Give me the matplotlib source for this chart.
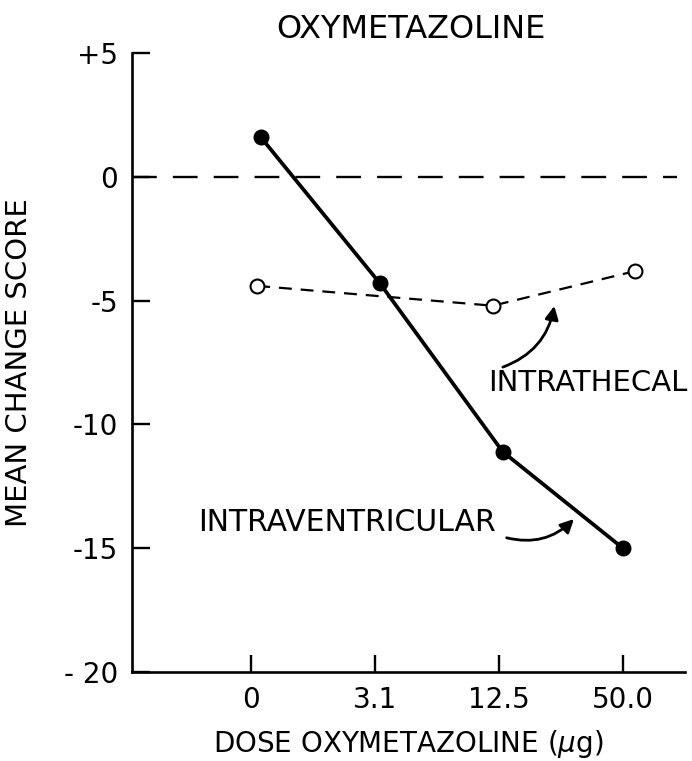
import numpy as np
import matplotlib
matplotlib.use("Agg")
import matplotlib.pyplot as plt

# Oxymetazoline: mean change score vs dose

# doses (category labels on the x axis)
doses = ["0", "3.1", "12.5", "50.0"]

# intraventricular (filled circles, solid line)
ivt_x = [0.08, 1.04, 2.03, 3.0]          # positions (dose index)
ivt_score = [1.6, -4.3, -11.1, -15.0]

# intrathecal (open circles, dashed line), no point at 3.1
ith_x = [0.05, 1.95, 3.1]
ith_score = [-4.4, -5.2, -3.8]

y_ticks = [5, 0, -5, -10, -15, -20]
y_ticklabels = ["+5", "0", "-5", "-10", "-15", "- 20"]

plt.rcParams['font.family'] = ['DejaVu Sans']

fig = plt.figure(figsize=(6.92, 7.61), dpi=100)
ax = fig.add_axes([0.1908, 0.117, 0.799, 0.813])

# zero reference line
ax.axhline(0, xmin=0, xmax=0.985, color="black", lw=1.7, dashes=(10.5, 6.8))

# intrathecal
ax.plot(ith_x, ith_score, color="black", lw=1.6, dashes=(5.8, 4.0),
        marker="o", ms=10, mfc="white", mec="black", mew=1.5, zorder=3)

# intraventricular
ax.plot(ivt_x, ivt_score, color="black", lw=2.7, marker="o", ms=10.5,
        mfc="black", mec="black", zorder=4)

ax.set_xlim(-0.96, 3.5)
ax.set_ylim(-20, 5)
ax.set_xticks(range(len(doses)))
ax.set_xticklabels(doses)
ax.set_yticks(y_ticks)
ax.set_yticklabels(y_ticklabels)

for s in ["top", "right"]:
    ax.spines[s].set_visible(False)
for s in ["left", "bottom"]:
    ax.spines[s].set_linewidth(1.9)

ax.tick_params(axis="y", direction="in", length=13, width=1.7, pad=10, labelsize=20)
ax.tick_params(axis="x", direction="in", length=12, width=1.7, pad=10, labelsize=20)

ax.set_ylabel("MEAN CHANGE SCORE", fontsize=21, labelpad=22)
ax.set_xlabel("DOSE OXYMETAZOLINE ($\\mu$g)", fontsize=20, labelpad=10)
fig.text(0.594, 0.961, "OXYMETAZOLINE", ha="center", va="center", fontsize=23)

# labels with curved arrows
ax.annotate("", xy=(2.45, -5.1), xytext=(2.01, -7.72),
            arrowprops=dict(arrowstyle="-|>", color="black", lw=2.0,
                            mutation_scale=20,
                            connectionstyle="arc3,rad=0.3"))
ax.text(1.91, -8.33, "INTRATHECAL", fontsize=21, ha="left", va="center")

ax.annotate("", xy=(2.62, -13.74), xytext=(2.04, -14.55),
            arrowprops=dict(arrowstyle="-|>", color="black", lw=2.0,
                            mutation_scale=20,
                            connectionstyle="arc3,rad=0.3"))
ax.text(-0.43, -13.98, "INTRAVENTRICULAR", fontsize=21.5, ha="left", va="center")

fig.savefig("out.png", dpi=100)
